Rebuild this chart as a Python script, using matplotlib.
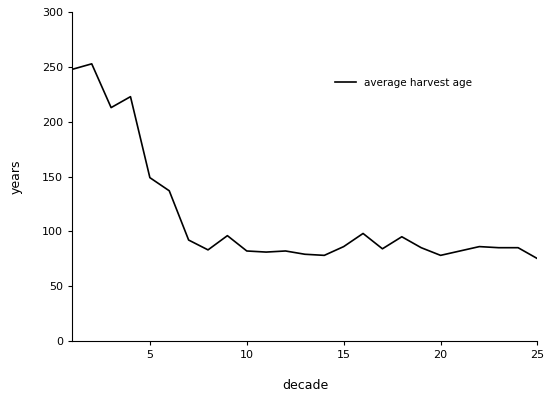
import matplotlib.pyplot as plt

decades = list(range(1, 26))
harvest_age = [248, 253, 213, 223, 149, 137, 92, 83, 96, 82, 81, 82, 79, 78, 86,
               98, 84, 95, 85, 78, 82, 86, 85, 85, 75]

fig = plt.figure(figsize=(5.44, 4.13), dpi=100)
ax = fig.add_axes([0.133, 0.175, 0.855, 0.795])
ax.plot(decades, harvest_age, color='black', lw=1.2, label='average harvest age')
ax.set_xlim(1, 25)
ax.set_ylim(0, 300)
ax.set_xticks([5, 10, 15, 20, 25])
ax.set_yticks(range(0, 301, 50))
ax.tick_params(labelsize=8, length=3)
ax.spines['top'].set_visible(False)
ax.spines['right'].set_visible(False)
ax.set_xlabel('decade', fontsize=9, labelpad=14)
ax.set_ylabel('years', fontsize=9, labelpad=14)
ax.legend(loc='upper right', bbox_to_anchor=(0.88, 0.83), frameon=False,
          fontsize=7.5, handlelength=2)
fig.savefig('out.png', dpi=100)
